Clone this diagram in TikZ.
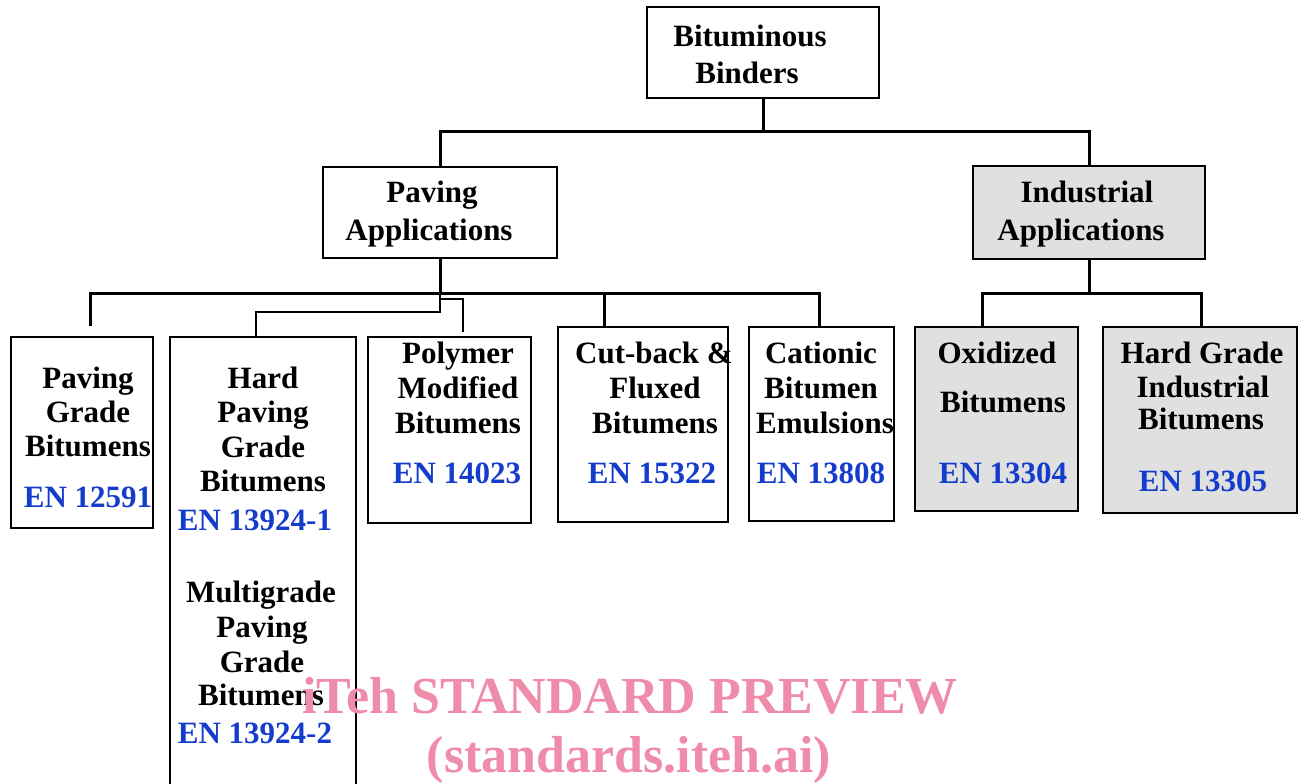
\documentclass[tikz,border=0pt]{standalone}
\usepackage{fontspec}
\setmainfont{Liberation Serif}
\definecolor{enblue}{RGB}{20,60,205}
\definecolor{boxgray}{RGB}{224,224,224}
\definecolor{wmpink}{RGB}{238,140,170}
\begin{document}
\begin{tikzpicture}[x=1pt,y=-1pt,
 box/.style={draw=black, line width=2.6pt, rectangle, anchor=north west, inner sep=0pt, outer sep=0pt},
 gbox/.style={box, fill=boxgray},
 txt/.style={anchor=base, inner sep=0pt, font=\fontsize{31}{34}\selectfont\bfseries},
 en/.style={txt, text=enblue},
 conn/.style={line width=3pt},
 thinconn/.style={line width=1.5pt},
 wm/.style={anchor=base, inner sep=0pt, text=wmpink, font=\fontsize{52}{60}\selectfont\bfseries}]
\useasboundingbox (0,0) rectangle (1298,784);
\clip (0,0) rectangle (1298,784);
\fill[white] (0,0) rectangle (1298,784);

% boxes
\node[box, minimum width=232pt, minimum height=91pt] (bb) at (647,7) {};
\node[box, minimum width=234pt, minimum height=91pt] (pa) at (323,167) {};
\node[gbox, minimum width=232pt, minimum height=93pt] (ia) at (973,166) {};
\node[box, minimum width=142pt, minimum height=191pt] (pgb) at (11,337) {};
\node[box, minimum width=186pt, minimum height=500pt] (hpg) at (170,337) {};
\node[box, minimum width=163pt, minimum height=186pt] (pmb) at (368,337) {};
\node[box, minimum width=170pt, minimum height=195pt] (cfb) at (558,327) {};
\node[box, minimum width=145pt, minimum height=194pt] (cbe) at (749,327) {};
\node[gbox, minimum width=163pt, minimum height=184pt] (oxb) at (915,327) {};
\node[gbox, minimum width=194pt, minimum height=186pt] (hgi) at (1103,327) {};

% texts
\node[txt] (bb1) at (750,47) {Bituminous};
\node[txt] (bb2) at (747,83) {Binders};
\node[txt] (pa1) at (432,202) {Paving};
\node[txt] (pa2) at (429,240) {Applications};
\node[txt] (ia1) at (1087,202) {Industrial};
\node[txt] (ia2) at (1081,240) {Applications};

\node[txt] (pgb1) at (88,388) {Paving};
\node[txt] (pgb2) at (88,422) {Grade};
\node[txt] (pgb3) at (88,456) {Bitumens};
\node[en] (pgb4) at (88,507) {EN 12591};

\node[txt] (hpg1) at (263,388) {Hard};
\node[txt] (hpg2) at (263,422) {Paving};
\node[txt] (hpg3) at (263,457) {Grade};
\node[txt] (hpg4) at (263,491) {Bitumens};
\node[en] (hpg5) at (255,530) {EN 13924-1};
\node[txt] (hpg6) at (261,602) {Multigrade};
\node[txt] (hpg7) at (262,637) {Paving};
\node[txt] (hpg8) at (262,672) {Grade};
\node[txt] (hpg9) at (261,705) {Bitumens};
\node[en] (hpg10) at (255,743) {EN 13924-2};

\node[txt] (pmb1) at (458,363) {Polymer};
\node[txt] (pmb2) at (458,398) {Modified};
\node[txt] (pmb3) at (458,433) {Bitumens};
\node[en] (pmb4) at (457,483) {EN 14023};

\node[txt] (cfb1) at (654,363) {Cut-back \&};
\node[txt] (cfb2) at (655,398) {Fluxed};
\node[txt] (cfb3) at (655,433) {Bitumens};
\node[en] (cfb4) at (652,483) {EN 15322};

\node[txt] (cbe1) at (821,363) {Cationic};
\node[txt] (cbe2) at (821,398) {Bitumen};
\node[txt] (cbe3) at (825,433) {Emulsions};
\node[en] (cbe4) at (821,483) {EN 13808};

\node[txt] (oxb1) at (997,363) {Oxidized};
\node[txt] (oxb2) at (1003,412) {Bitumens};
\node[en] (oxb3) at (1003,483) {EN 13304};

\node[txt] (hgi1) at (1202,363) {Hard Grade};
\node[txt] (hgi2) at (1203,397) {Industrial};
\node[txt] (hgi3) at (1201,429) {Bitumens};
\node[en] (hgi4) at (1203,491) {EN 13305};

% connectors: top level
\coordinate (j1) at (763,131);
\draw[conn] (bb.south) -- (j1);
\draw[conn] (pa.north) |- (j1 -| ia.north) -- (ia.north);

% paving level
\coordinate (j2) at (440,293);
\coordinate (d1) at (90,326);
\coordinate (dcb) at (604,293);
\coordinate (dce) at (819,293);
\draw[conn] (pa.south) -- (j2);
\draw[conn] (d1) |- (dce) -- (dce |- cbe.north);
\draw[conn] (dcb) -- (dcb |- cfb.north);
\coordinate (t1) at (440,312);
\coordinate (t2) at (256,312);
\draw[thinconn] (j2) -- (t1) -- (t2) -- (t2 |- hpg.north);
\coordinate (t3) at (440,299);
\coordinate (t4) at (463,299);
\coordinate (t5) at (463,332);
\draw[thinconn] (t3) -- (t4) -- (t5);

% industrial level
\coordinate (j3) at (1089,293);
\coordinate (dox) at (982,293);
\coordinate (dhg) at (1201,293);
\draw[conn] (ia.south) -- (j3);
\draw[conn] (dox |- oxb.north) -- (dox) -- (dhg) -- (dhg |- hgi.north);

% watermark
\node[wm] (wm1) at (630,713) {iTeh STANDARD PREVIEW};
\node[wm] (wm2) at (629,772) {(standards.iteh.ai)};
\end{tikzpicture}
\end{document}
